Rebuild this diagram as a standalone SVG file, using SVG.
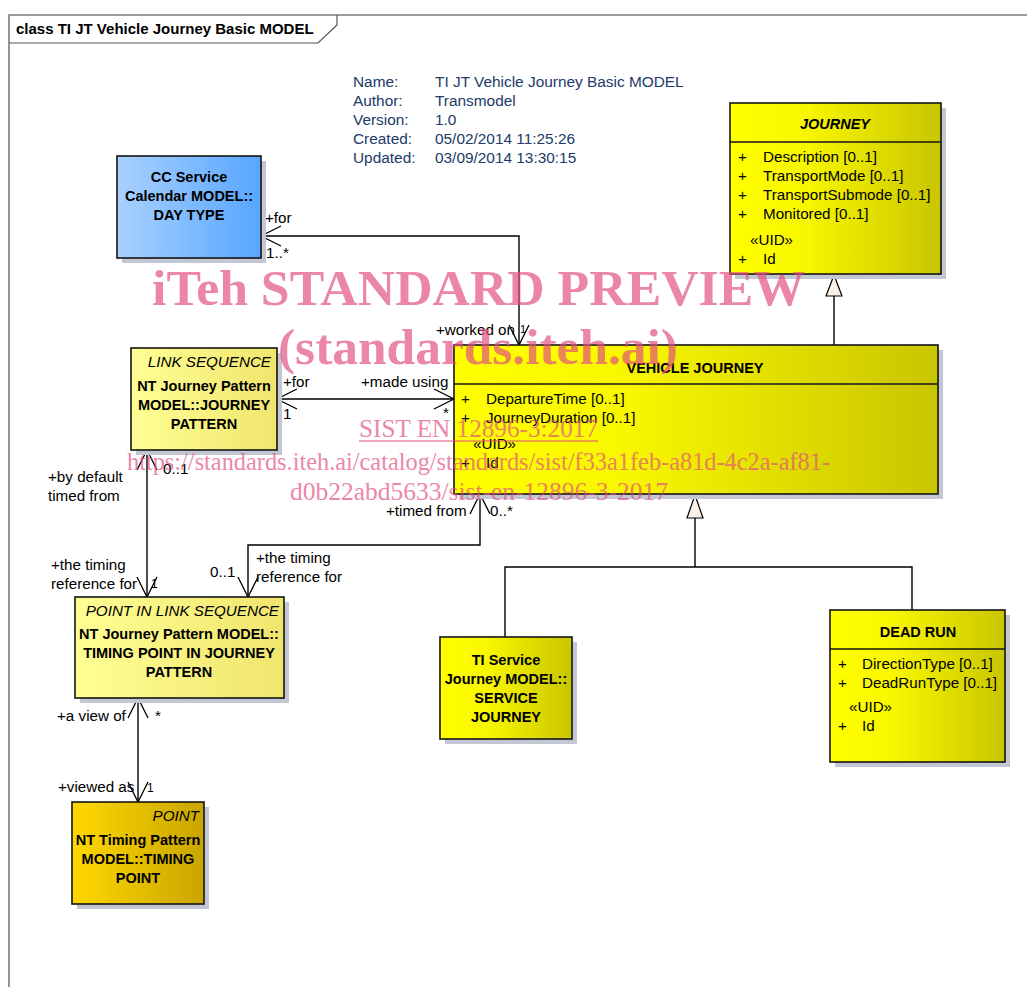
<svg xmlns="http://www.w3.org/2000/svg" width="1027" height="987" viewBox="0 0 1027 987">
  <defs>
    <linearGradient id="gYellow" x1="0" y1="0" x2="1" y2="0">
      <stop offset="0" stop-color="#FFFF00"/>
      <stop offset="0.35" stop-color="#F9F700"/>
      <stop offset="1" stop-color="#C9C500"/>
    </linearGradient>
    <linearGradient id="gPale" x1="0" y1="0" x2="1" y2="0">
      <stop offset="0" stop-color="#FFFF94"/>
      <stop offset="1" stop-color="#F0E56E"/>
    </linearGradient>
    <linearGradient id="gGold" x1="0" y1="0" x2="1" y2="0">
      <stop offset="0" stop-color="#FFD800"/>
      <stop offset="1" stop-color="#C9A500"/>
    </linearGradient>
    <linearGradient id="gBlue" x1="0" y1="0" x2="1" y2="0">
      <stop offset="0" stop-color="#A9D1FF"/>
      <stop offset="1" stop-color="#58A5FF"/>
    </linearGradient>
    <marker id="open" markerUnits="userSpaceOnUse" markerWidth="24" markerHeight="24" refX="21" refY="10" orient="auto-start-reverse" overflow="visible">
      <path d="M1,0 L21,10 L1,20" fill="none" stroke="#000" stroke-width="1.3"/>
    </marker>
  </defs>
  <style>
    text { font-family: "Liberation Sans", Arial, sans-serif; font-size: 15.2px; fill: #000; }
    .b { font-weight: bold; font-size: 14.5px; }
    .bi { font-weight: bold; font-style: italic; font-size: 14.5px; }
    .i { font-style: italic; }
    .c { text-anchor: middle; }
    .e { text-anchor: end; }
    .meta { fill: #213A68; font-size: 15.4px; }
    .box { stroke: #141414; stroke-width: 1.6; }
    .shadow { fill: #C3C7D3; }
    .sep { stroke: #141414; stroke-width: 1.4; }
    .conn { fill: none; stroke: #000; stroke-width: 1.4; }
    .nav { marker-start: url(#open); marker-end: url(#open); }
    .gen { fill: #FAF2E8; stroke: #000; stroke-width: 1.2; }
    .wm { font-family: "Liberation Serif", "Times New Roman", serif; fill: #E24E80; opacity: 0.68; }
  </style>

  <rect width="1027" height="987" fill="#fff"/>

  <!-- diagram frame and tab -->
  <g id="frame">
    <path d="M9,987 V15 H1027" fill="none" stroke="#7C7C7C" stroke-width="1.6"/>
    <path d="M9,43 H318 L337,25 V15" fill="none" stroke="#555" stroke-width="1.2"/>
    <text x="16" y="34" class="b" style="font-size:15px">class TI JT Vehicle Journey Basic MODEL</text>
  </g>

  <!-- package info -->
  <g id="info">
    <text x="353" y="87" class="meta">Name:</text>
    <text x="435" y="87" class="meta">TI JT Vehicle Journey Basic MODEL</text>
    <text x="353" y="106" class="meta">Author:</text>
    <text x="435" y="106" class="meta">Transmodel</text>
    <text x="353" y="125" class="meta">Version:</text>
    <text x="435" y="125" class="meta">1.0</text>
    <text x="353" y="144" class="meta">Created:</text>
    <text x="435" y="144" class="meta">05/02/2014 11:25:26</text>
    <text x="353" y="163" class="meta">Updated:</text>
    <text x="435" y="163" class="meta">03/09/2014 13:30:15</text>
  </g>

  <!-- connectors -->
  <g id="connectors">
    <!-- associations -->
    <path class="conn nav" d="M261,236 H519 V345"/>
    <path class="conn nav" d="M277,399 H454"/>
    <path class="conn nav" d="M147,450 V597"/>
    <path class="conn nav" d="M248,597 V545 H480 V494"/>
    <path class="conn nav" d="M138,698 V802"/>
    <!-- generalizations -->
    <path class="conn" d="M834,296 V345"/>
    <polygon class="gen" points="834,275 826,296 842,296"/>
    <path class="conn" d="M695,518 V567 M505,637 V567 H912 V610"/>
    <polygon class="gen" points="695,495 687,518 703,518"/>

    <!-- role and multiplicity labels -->
    <text x="265" y="223">+for</text>
    <text x="266" y="258">1..*</text>
    <text x="436" y="335">+worked on</text>
    <text x="520" y="333" style="font-size:11px">1</text>
    <text x="283" y="387">+for</text>
    <text x="361" y="387">+made using</text>
    <text x="283" y="419">1</text>
    <text x="443" y="418">*</text>
    <text x="48" y="482">+by default</text>
    <text x="48" y="501">timed from</text>
    <text x="163" y="474">0..1</text>
    <text x="51" y="570">+the timing</text>
    <text x="51" y="589">reference for</text>
    <text x="151" y="588" style="font-size:12px">1</text>
    <text x="210" y="577">0..1</text>
    <text x="256" y="563">+the timing</text>
    <text x="256" y="582">reference for</text>
    <text x="386" y="516">+timed from</text>
    <text x="490" y="516">0..*</text>
    <text x="57" y="721">+a view of</text>
    <text x="155" y="721">*</text>
    <text x="58" y="792">+viewed as</text>
    <text x="147" y="792" style="font-size:12px">1</text>
  </g>

  <!-- CC Service Calendar MODEL::DAY TYPE -->
  <g id="day-type">
    <rect class="shadow" x="122" y="161" width="144" height="102"/>
    <rect class="box" x="117" y="156" width="144" height="102" fill="url(#gBlue)"/>
    <text x="189" y="182" class="b c">CC Service</text>
    <text x="189" y="201" class="b c">Calendar MODEL::</text>
    <text x="189" y="220" class="b c">DAY TYPE</text>
  </g>

  <!-- JOURNEY -->
  <g id="journey">
    <rect class="shadow" x="735" y="108" width="211" height="171"/>
    <rect class="box" x="730" y="103" width="211" height="171" fill="url(#gYellow)"/>
    <line class="sep" x1="730" y1="142" x2="941" y2="142"/>
    <text x="835" y="129" class="bi c">JOURNEY</text>
    <text x="738" y="162">+</text><text x="763" y="162">Description [0..1]</text>
    <text x="738" y="181">+</text><text x="763" y="181">TransportMode [0..1]</text>
    <text x="738" y="200">+</text><text x="763" y="200">TransportSubmode [0..1]</text>
    <text x="738" y="219">+</text><text x="763" y="219">Monitored [0..1]</text>
    <text x="750" y="245">«UID»</text>
    <text x="738" y="264">+</text><text x="763" y="264">Id</text>
  </g>

  <!-- NT Journey Pattern MODEL::JOURNEY PATTERN -->
  <g id="journey-pattern">
    <rect class="shadow" x="136" y="353" width="146" height="102"/>
    <rect class="box" x="131" y="348" width="146" height="102" fill="url(#gPale)"/>
    <text x="271" y="367" class="i e">LINK SEQUENCE</text>
    <text x="204" y="391" class="b c">NT Journey Pattern</text>
    <text x="204" y="410" class="b c">MODEL::JOURNEY</text>
    <text x="204" y="429" class="b c">PATTERN</text>
  </g>

  <!-- VEHICLE JOURNEY -->
  <g id="vehicle-journey">
    <rect class="shadow" x="459" y="350" width="484" height="149"/>
    <rect class="box" x="454" y="345" width="484" height="149" fill="url(#gYellow)"/>
    <line class="sep" x1="454" y1="384" x2="938" y2="384"/>
    <text x="695" y="373" class="b c">VEHICLE JOURNEY</text>
    <text x="461" y="404">+</text><text x="486" y="404">DepartureTime [0..1]</text>
    <text x="461" y="423">+</text><text x="486" y="423">JourneyDuration [0..1]</text>
    <text x="473" y="449">«UID»</text>
    <text x="461" y="468">+</text><text x="486" y="468">Id</text>
  </g>

  <!-- NT Journey Pattern MODEL::TIMING POINT IN JOURNEY PATTERN -->
  <g id="timing-point-in-journey-pattern">
    <rect class="shadow" x="80" y="602" width="209" height="101"/>
    <rect class="box" x="75" y="597" width="209" height="101" fill="url(#gPale)"/>
    <text x="279" y="616" class="i e">POINT IN LINK SEQUENCE</text>
    <text x="179" y="639" class="b c">NT Journey Pattern MODEL::</text>
    <text x="179" y="658" class="b c">TIMING POINT IN JOURNEY</text>
    <text x="179" y="677" class="b c">PATTERN</text>
  </g>

  <!-- NT Timing Pattern MODEL::TIMING POINT -->
  <g id="timing-point">
    <rect class="shadow" x="77" y="807" width="132" height="102"/>
    <rect class="box" x="72" y="802" width="132" height="102" fill="url(#gGold)"/>
    <text x="199" y="821" class="i e">POINT</text>
    <text x="138" y="845" class="b c">NT Timing Pattern</text>
    <text x="138" y="864" class="b c">MODEL::TIMING</text>
    <text x="138" y="883" class="b c">POINT</text>
  </g>

  <!-- TI Service Journey MODEL::SERVICE JOURNEY -->
  <g id="service-journey">
    <rect class="shadow" x="445" y="642" width="132" height="102"/>
    <rect class="box" x="440" y="637" width="132" height="102" fill="url(#gYellow)"/>
    <text x="506" y="665" class="b c">TI Service</text>
    <text x="506" y="684" class="b c">Journey MODEL::</text>
    <text x="506" y="703" class="b c">SERVICE</text>
    <text x="506" y="722" class="b c">JOURNEY</text>
  </g>

  <!-- DEAD RUN -->
  <g id="dead-run">
    <rect class="shadow" x="835" y="615" width="175" height="152"/>
    <rect class="box" x="830" y="610" width="175" height="152" fill="url(#gYellow)"/>
    <line class="sep" x1="830" y1="649" x2="1005" y2="649"/>
    <text x="918" y="637" class="b c">DEAD RUN</text>
    <text x="838" y="669">+</text><text x="862" y="669">DirectionType [0..1]</text>
    <text x="838" y="688">+</text><text x="862" y="688">DeadRunType [0..1]</text>
    <text x="849" y="712">«UID»</text>
    <text x="838" y="731">+</text><text x="862" y="731">Id</text>
  </g>

  <!-- preview stamp -->
  <g id="stamp">
    <text class="wm" x="152" y="305" style="font-size:51px;font-weight:bold" textLength="653" lengthAdjust="spacingAndGlyphs">iTeh STANDARD PREVIEW</text>
    <text class="wm" x="278" y="364" style="font-size:51px;font-weight:bold" textLength="400" lengthAdjust="spacingAndGlyphs">(standards.iteh.ai)</text>
    <text class="wm" x="359" y="437" style="font-size:25px" textLength="239" lengthAdjust="spacingAndGlyphs">SIST EN 12896-3:2017</text>
    <line x1="359" y1="441" x2="598" y2="441" stroke="#E24E80" stroke-width="1.4" opacity="0.68"/>
    <text class="wm" x="127" y="470" style="font-size:25px" textLength="703" lengthAdjust="spacingAndGlyphs">https://standards.iteh.ai/catalog/standards/sist/f33a1feb-a81d-4c2a-af81-</text>
    <text class="wm" x="290" y="500" style="font-size:25px" textLength="378" lengthAdjust="spacingAndGlyphs">d0b22abd5633/sist-en-12896-3-2017</text>
  </g>
</svg>
